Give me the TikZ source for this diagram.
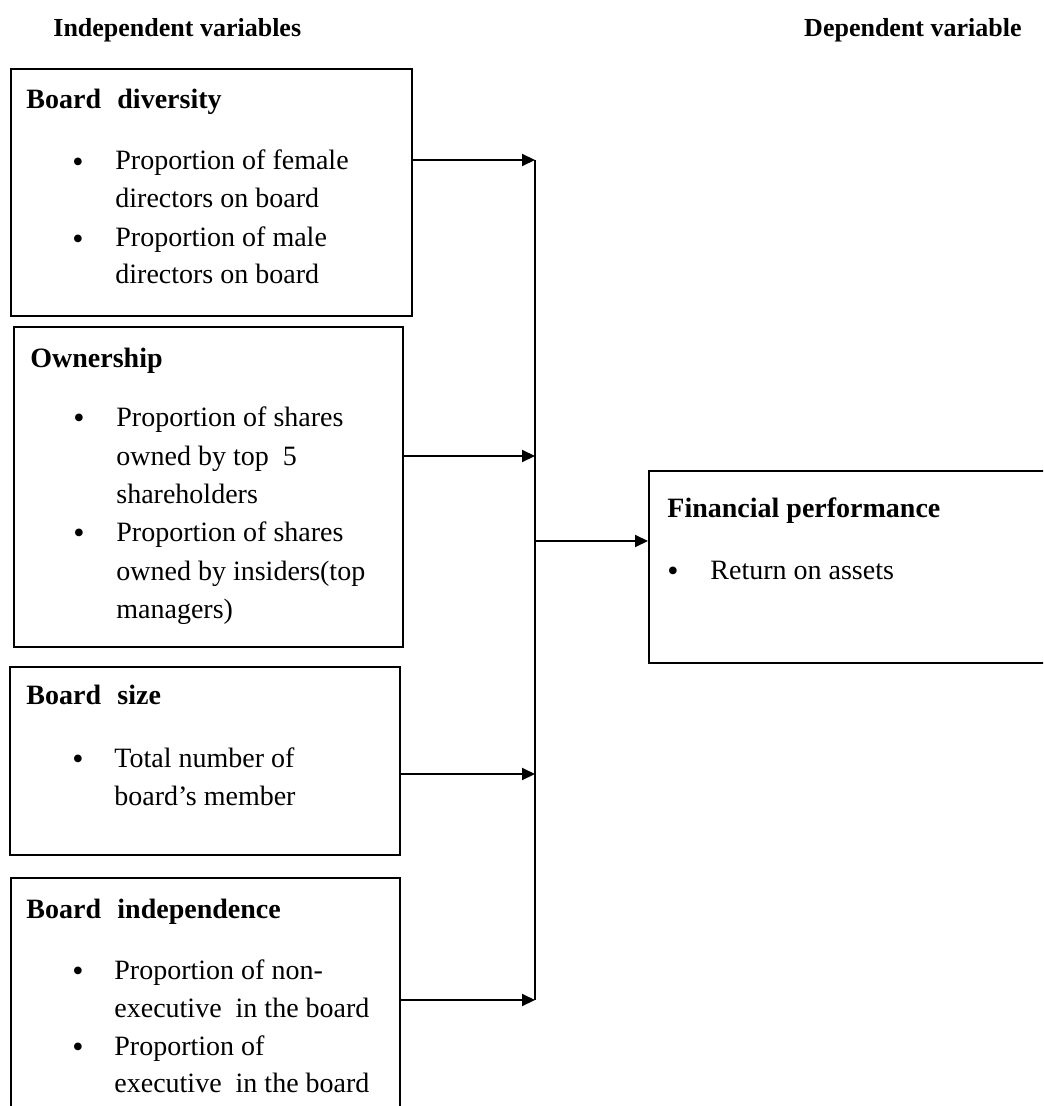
\documentclass[tikz,border=0pt]{standalone}
\usepackage{fontspec}
\setmainfont{Liberation Serif}
\usetikzlibrary{arrows.meta}

\begin{document}
\begin{tikzpicture}[x=0.5pt,y=-0.5pt,
  box/.style={draw,line width=1pt,anchor=north west,inner sep=0pt},
  head/.style={anchor=base west,inner sep=0pt,font=\bfseries\fontsize{13}{15}\selectfont},
  title/.style={anchor=base west,inner sep=0pt,font=\bfseries\fontsize{14}{16}\selectfont},
  item/.style={anchor=base west,inner sep=0pt,font=\fontsize{14}{16}\selectfont},
  dot/.style={anchor=base,inner sep=0pt,yshift=-1.3pt,font=\fontsize{16}{16}\selectfont},
  flow/.style={-{Triangle[length=6.5pt,width=6pt]},line width=1pt}]
  \clip (0,0) rectangle (1043,1106);
  % headings
  \node [head] (hind) at (53,37) {Independent variables};
  \node [head,anchor=base east] (hdep) at (1022,37) {Dependent variable};
  % boxes
  \node [box,minimum width=200.5pt,minimum height=123.5pt] (b1) at (10,68) {};
  \node [box,minimum width=194.5pt,minimum height=160pt] (b2) at (13,326) {};
  \node [box,minimum width=195pt,minimum height=94pt] (b3) at (9,666) {};
  \node [box,minimum width=194.5pt,minimum height=130pt] (b4) at (10,877) {};
  \node [box,minimum width=206pt,minimum height=96pt] (b5) at (648,470) {};
  % board diversity
  \node [title] (t1) at (26,109) {Board\,\, diversity};
  \node [dot] (d1a) at (78,170) {\textbullet};
  \node [item] (l1a) at (115,170) {Proportion of female};
  \node [item] (l1b) at (115,208) {directors on board};
  \node [dot] (d1b) at (78,247) {\textbullet};
  \node [item] (l1c) at (115,247) {Proportion of male};
  \node [item] (l1d) at (115,284) {directors on board};
  % ownership
  \node [title] (t2) at (30,368) {Ownership};
  \node [dot] (d2a) at (79,426) {\textbullet};
  \node [item] (l2a) at (116,426) {Proportion of shares};
  \node [item] (l2b) at (116,465) {owned by top~ 5};
  \node [item] (l2c) at (116,503) {shareholders};
  \node [dot] (d2b) at (79,541) {\textbullet};
  \node [item] (l2d) at (116,541) {Proportion of shares};
  \node [item] (l2e) at (116,580) {owned by insiders(top};
  \node [item] (l2f) at (116,618) {managers)};
  % board size
  \node [title] (t3) at (26,704) {Board\,\, size};
  \node [dot] (d3a) at (78,767) {\textbullet};
  \node [item] (l3a) at (114,767) {Total number of};
  \node [item] (l3b) at (114,805) {board’s member};
  % board independence
  \node [title] (t4) at (26,918) {Board\,\, independence};
  \node [dot] (d4a) at (78,979) {\textbullet};
  \node [item] (l4a) at (114,979) {Proportion of non-};
  \node [item] (l4b) at (114,1017) {executive~ in the board};
  \node [dot] (d4b) at (78,1055) {\textbullet};
  \node [item] (l4c) at (114,1055) {Proportion of};
  \node [item] (l4d) at (114,1092) {executive~ in the board};
  % financial performance
  \node [title] (t5) at (667,517) {Financial performance};
  \node [dot] (d5a) at (673,579) {\textbullet};
  \node [item] (l5a) at (710,579) {Return on assets};
  % connectors
  \coordinate (j1) at (535,160);
  \coordinate (j2) at (535,456);
  \coordinate (j3) at (535,774);
  \coordinate (j4) at (535,1000);
  \coordinate (jm) at (535,541);
  \draw [line width=1pt] (j1) -- (j4);
  \draw [flow] (b1.east |- j1) -- (j1);
  \draw [flow] (b2.east |- j2) -- (j2);
  \draw [flow] (b3.east |- j3) -- (j3);
  \draw [flow] (b4.east |- j4) -- (j4);
  \draw [flow] (jm) -- (b5.west |- jm);
\end{tikzpicture}
\end{document}
